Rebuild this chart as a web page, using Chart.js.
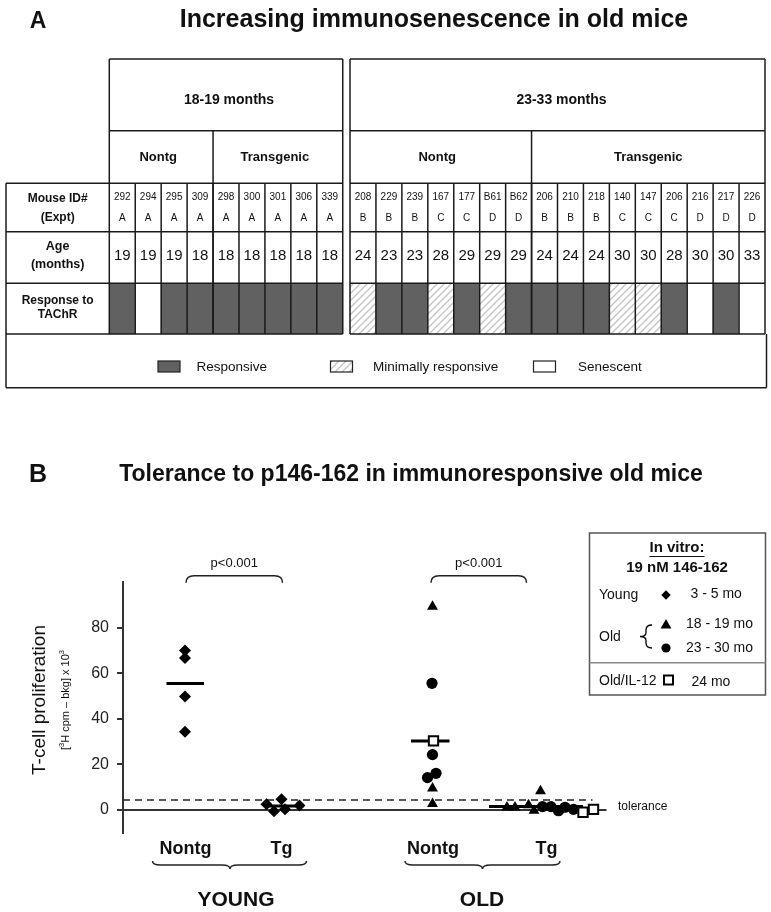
<!DOCTYPE html>
<html><head><meta charset="utf-8">
<script src="https://cdn.jsdelivr.net/npm/chart.js@4.4.1/dist/chart.umd.min.js"></script>
<style>
html,body{margin:0;padding:0;background:#fff;}
#wrap{position:relative;width:771px;height:912px;}
canvas{position:absolute;left:0;top:0;}
</style></head><body>
<div id="wrap"><canvas id="tableChart" width="771" height="912"></canvas><canvas id="prolifChart" width="771" height="912"></canvas></div>
<script>
// ---- panel A: mice table ----
const mouseIds = ['292','294','295','309','298','300','301','306','339','208','229','239','167','177','B61','B62','206','210','218','140','147','206','216','217','226'];
const expts = ['A','A','A','A','A','A','A','A','A','B','B','B','C','C','D','D','B','B','B','C','C','C','D','D','D'];
const ages = [19,19,19,18,18,18,18,18,18,24,23,23,28,29,29,29,24,24,24,30,30,28,30,30,33];
// R = responsive, M = minimally responsive, S = senescent
const responses = ['R','S','R','R','R','R','R','R','R','M','R','R','M','R','M','R','R','R','R','M','M','R','S','R','S'];
const ageGroups = ['18-19 months','23-33 months'];
const groupSizes = [9,16];
const strains = ['Nontg','Transgenic','Nontg','Transgenic'];
const strainSizes = [4,5,7,9];
const responseKeys = ['R','M','S'];
const responseNames = ['Responsive','Minimally responsive','Senescent'];

// ---- panel B: T-cell proliferation ----
const yTicks = [0,20,40,60,80];
const groupX = [12.5,31.7,62,84.7];
const groupLabels = ['Nontg','Tg','Nontg','Tg'];
const youngNontgX = [12.4,12.4,12.4,12.4];
const youngNontgY = [70,66.7,49.8,34.3];
const youngTgX = [28.7,31.7,30.2,32.4,35.3];
const youngTgY = [2.5,4.7,-0.5,0.3,2.0];
const oldNontgTriX = [61.9,61.9,61.9];
const oldNontgTriY = [89.3,9.5,2.7];
const oldNontgCircX = [61.8,61.9,60.9,62.6];
const oldNontgCircY = [55.6,24.3,14.2,16.1];
const oldNontgSqX = [62.1];
const oldNontgSqY = [30.3];
const oldTgTriX = [76.8,78.4,81.1,82.2,83.5];
const oldTgTriY = [1.2,1.2,2.2,-0.3,8.3];
const oldTgCircX = [83.9,85.6,87.1,88.4,90.1];
const oldTgCircY = [1.5,1.5,-0.3,1.2,0.3];
const oldTgSqX = [92,94.1];
const oldTgSqY = [-1,0.3];
const meanY = [55.5,1.8,30.3,1.5];
const meanFrom = [8.7,28.6,57.6,73.2];
const meanTo = [16.2,35.4,65.3,92];
const toleranceLevel = 4.4;
const baselineX = [0,96.7];
const toleranceX = [0,93.9];

const FONT = '"Liberation Sans", Arial, Helvetica, sans-serif';
const GAP = 0.28;
function cellX(i){ return i < groupSizes[0] ? i + 0.5 : i + 0.5 + GAP; }
function edgeX(i){ return i <= groupSizes[0] ? i : i + GAP; }

function hatchPattern(ctx){
  const c = document.createElement('canvas'); c.width = c.height = 7;
  const g = c.getContext('2d');
  g.fillStyle = '#fff'; g.fillRect(0,0,7,7);
  g.strokeStyle = '#c4c4c4'; g.lineWidth = 1.3;
  g.beginPath(); g.moveTo(0,7); g.lineTo(7,0); g.moveTo(-1,1); g.lineTo(1,-1); g.moveTo(6,8); g.lineTo(8,6); g.stroke();
  return ctx.createPattern(c,'repeat');
}
function txt(ctx, s, x, y, font, align, maxW){
  ctx.font = font; ctx.textAlign = align || 'center'; ctx.textBaseline = 'middle';
  if (maxW) ctx.fillText(s, x, y, maxW); else ctx.fillText(s, x, y);
}
function line(ctx, x1, y1, x2, y2){ ctx.beginPath(); ctx.moveTo(x1,y1); ctx.lineTo(x2,y2); ctx.stroke(); }

const ctxA = document.getElementById('tableChart').getContext('2d');
const HATCH = hatchPattern(ctxA);
const fills = { R:'#616161', M:HATCH, S:'#ffffff' };

const tablePlugin = {
  id:'tableDraw',
  afterDatasetsDraw(chart){
    const ctx = chart.ctx, ca = chart.chartArea, xs = chart.scales.x;
    const px = v => xs.getPixelForValue(v);
    const L0 = 6, Lc = ca.left, R = ca.right;
    const Yt = 59, Y1 = 130.7, Y2 = 183.3, Y3 = 231.7, Y4 = ca.top, Y5 = ca.bottom, Y6 = 387.7;
    const bL = px(groupSizes[0]), bR = px(groupSizes[0] + GAP);
    ctx.save();
    ctx.strokeStyle = '#1a1a1a'; ctx.lineWidth = 1.5;
    [Yt, Y1].forEach(y => { line(ctx,Lc,y,bL,y); line(ctx,bR,y,R,y); });
    [Y2, Y3, Y4, Y5].forEach(y => { line(ctx,L0,y,bL,y); line(ctx,bR,y,R,y); });
    line(ctx, L0, Y6, R + 1.5, Y6);
    line(ctx, L0, Y2, L0, Y6); line(ctx, Lc, Yt, Lc, Y5);
    line(ctx, R, Yt, R, Y5); line(ctx, R + 1.5, Y5, R + 1.5, Y6);
    line(ctx, bL, Yt, bL, Y5); line(ctx, bR, Yt, bR, Y5);
    // strain dividers and cell dividers
    let acc = 0;
    strainSizes.forEach((n, k) => {
      acc += n;
      if (k === 0 || k === 2) { const x = px(edgeX(acc)); line(ctx, x, Y1, x, Y5); }
    });
    for (let i = 1; i < mouseIds.length; i++) {
      if (i === groupSizes[0]) continue;
      const x = px(edgeX(i)); line(ctx, x, Y2, x, Y5);
    }
    ctx.fillStyle = '#111';
    // panel title
    txt(ctx, 'A', 38, 22, 'bold 23px ' + FONT);
    txt(ctx, 'Increasing immunosenescence in old mice', 434, 20, 'bold 25px ' + FONT, 'center', 517);
    // age group headers
    txt(ctx, ageGroups[0], (Lc + bL) / 2 + 3, 100, 'bold 14px ' + FONT);
    txt(ctx, ageGroups[1], (bR + R) / 2 + 4, 100, 'bold 14px ' + FONT);
    // strain headers
    acc = 0;
    strainSizes.forEach((n, k) => {
      const x1 = px(edgeX(acc)), x2 = px(edgeX(acc + n));
      acc += n;
      txt(ctx, strains[k], (x1 + x2) / 2 + (k < 2 ? -3 : 0), 157, 'bold 13px ' + FONT);
    });
    // row labels
    const lx = (L0 + Lc) / 2;
    txt(ctx, 'Mouse ID#', lx, 199, 'bold 12px ' + FONT);
    txt(ctx, '(Expt)', lx, 218, 'bold 12px ' + FONT);
    txt(ctx, 'Age', lx, 247, 'bold 12.5px ' + FONT);
    txt(ctx, '(months)', lx, 265, 'bold 12.5px ' + FONT);
    txt(ctx, 'Response to', lx, 301, 'bold 12px ' + FONT);
    txt(ctx, 'TAChR', lx, 315, 'bold 12px ' + FONT);
    mouseIds.forEach((id, i) => {
      const x = px(cellX(i));
      txt(ctx, id, x, 197.5, '10px ' + FONT);
      txt(ctx, expts[i], x, 218.5, '10px ' + FONT);
      txt(ctx, String(ages[i]), x, 256, '15px ' + FONT);
    });
    // legend row
    const sw = [158, 330.5, 533.5], tx = [196.5, 373, 578];
    responseKeys.forEach((k, j) => {
      ctx.fillStyle = fills[k]; ctx.fillRect(sw[j], 361, 22, 11);
      ctx.strokeStyle = '#222'; ctx.lineWidth = 1.2; ctx.strokeRect(sw[j], 361, 22, 11);
      ctx.fillStyle = '#111';
      txt(ctx, responseNames[j], tx[j], 367.5, '13.5px ' + FONT, 'left');
    });
    ctx.restore();
  }
};

new Chart(ctxA, {
  type:'bar',
  data:{ datasets:[{
    data: mouseIds.map((id, i) => ({ x: cellX(i), y: [0, 1] })),
    backgroundColor: responses.map(r => fills[r]),
    borderWidth: 0, barPercentage: 1, categoryPercentage: 1
  }]},
  options:{
    responsive:false, animation:false,
    layout:{ padding:{ left:109.3, right:6, top:283.3, bottom:912 - 334 } },
    plugins:{ legend:{display:false}, tooltip:{enabled:false} },
    scales:{
      x:{ type:'linear', min:0, max:mouseIds.length + GAP, offset:false, display:false },
      y:{ min:0, max:1, display:false }
    }
  },
  plugins:[tablePlugin]
});

// ---- panel B drawing helpers ----
function drawMarker(ctx, kind, x, y, r){
  ctx.beginPath();
  if (kind === 'diamond') { ctx.moveTo(x, y - r); ctx.lineTo(x + r, y); ctx.lineTo(x, y + r); ctx.lineTo(x - r, y); ctx.closePath(); ctx.fill(); }
  else if (kind === 'tri') { ctx.moveTo(x, y - r); ctx.lineTo(x + r * 0.9, y + r * 0.6); ctx.lineTo(x - r * 0.9, y + r * 0.6); ctx.closePath(); ctx.fill(); }
  else if (kind === 'circ') { ctx.arc(x, y, r, 0, Math.PI * 2); ctx.fill(); }
  else { ctx.fillStyle = '#fff'; ctx.fillRect(x - r, y - r, 2 * r, 2 * r); ctx.lineWidth = 2; ctx.strokeRect(x - r, y - r, 2 * r, 2 * r); ctx.fillStyle = '#000'; }
}
function braceDown(ctx, x1, x2, xm, y, h){
  const r = h * 0.5;
  ctx.beginPath();
  ctx.moveTo(x1, y);
  ctx.quadraticCurveTo(x1, y + r, x1 + 8, y + r);
  ctx.lineTo(xm - 8, y + r);
  ctx.quadraticCurveTo(xm, y + r, xm, y + h);
  ctx.quadraticCurveTo(xm, y + r, xm + 8, y + r);
  ctx.lineTo(x2 - 8, y + r);
  ctx.quadraticCurveTo(x2, y + r, x2, y);
  ctx.stroke();
}
function bracketUp(ctx, x1, x2, y, h){
  ctx.beginPath();
  ctx.moveTo(x1, y + h);
  ctx.quadraticCurveTo(x1, y, x1 + 8, y);
  ctx.lineTo(x2 - 8, y);
  ctx.quadraticCurveTo(x2, y, x2, y + h);
  ctx.stroke();
}
function runs(ctx, parts){
  let w = 0;
  parts.forEach(p => { ctx.font = p.size + 'px ' + FONT; w += ctx.measureText(p.t).width; });
  let x = -w / 2;
  ctx.textAlign = 'left'; ctx.textBaseline = 'middle';
  parts.forEach(p => { ctx.font = p.size + 'px ' + FONT; ctx.fillText(p.t, x, p.dy || 0); x += ctx.measureText(p.t).width; });
}

const annotPlugin = {
  id:'annot',
  afterDraw(chart){
    const ctx = chart.ctx, xs = chart.scales.x, ys = chart.scales.y;
    const X = v => xs.getPixelForValue(v), Yv = v => ys.getPixelForValue(v);
    ctx.save();
    ctx.fillStyle = '#111'; ctx.strokeStyle = '#222';
    txt(ctx, 'B', 38, 475, 'bold 25px ' + FONT);
    txt(ctx, 'Tolerance to p146-162 in immunoresponsive old mice', 411, 475, 'bold 23px ' + FONT, 'center', 645);
    // y axis title
    ctx.save(); ctx.translate(40, 700); ctx.rotate(-Math.PI / 2);
    txt(ctx, 'T-cell proliferation', 0, 0, '19px ' + FONT);
    ctx.restore();
    ctx.save(); ctx.translate(66, 700); ctx.rotate(-Math.PI / 2);
    runs(ctx, [{t:'[', size:11}, {t:'3', size:7.5, dy:-4}, {t:'H cpm \u2013 bkg] x 10', size:11}, {t:'3', size:7.5, dy:-4}]);
    ctx.restore();
    // significance brackets
    ctx.lineWidth = 1.5;
    [[12.6, 31.9], [61.6, 80.7]].forEach(b => {
      bracketUp(ctx, X(b[0]), X(b[1]), Yv(102.8), 7);
      txt(ctx, 'p<0.001', (X(b[0]) + X(b[1])) / 2, Yv(108.2), '13px ' + FONT);
    });
    // group braces
    braceDown(ctx, X(5.9), X(36.7), X(21.4), 861, 8);
    braceDown(ctx, X(56.4), X(87.4), X(71.9), 861, 8);
    txt(ctx, 'YOUNG', X(22.6), 900, 'bold 21px ' + FONT);
    txt(ctx, 'OLD', X(71.8), 900, 'bold 21px ' + FONT);
    txt(ctx, 'tolerance', X(99), Yv(1.5), '12px ' + FONT, 'left');
    // in vitro legend box
    ctx.strokeStyle = '#555'; ctx.lineWidth = 1.5;
    ctx.strokeRect(589.5, 533, 176, 162);
    ctx.strokeStyle = '#888'; line(ctx, 589.5, 662.7, 765.5, 662.7);
    ctx.fillStyle = '#111';
    txt(ctx, 'In vitro:', 677, 548, 'bold 15px ' + FONT);
    ctx.font = 'bold 15px ' + FONT;
    const uw = ctx.measureText('In vitro:').width;
    ctx.strokeStyle = '#111'; ctx.lineWidth = 1.2; line(ctx, 677 - uw / 2, 556.5, 677 + uw / 2, 556.5);
    txt(ctx, '19 nM 146-162', 677, 567.5, 'bold 15px ' + FONT);
    txt(ctx, 'Young', 599, 595, '14px ' + FONT, 'left');
    txt(ctx, '3 - 5 mo', 690.5, 594, '14px ' + FONT, 'left');
    txt(ctx, 'Old', 599, 637, '14px ' + FONT, 'left');
    txt(ctx, '18 - 19 mo', 686, 624, '14px ' + FONT, 'left');
    txt(ctx, '23 - 30 mo', 686, 648, '14px ' + FONT, 'left');
    txt(ctx, 'Old/IL-12', 599, 681.5, '14px ' + FONT, 'left');
    txt(ctx, '24 mo', 691.5, 682.5, '14px ' + FONT, 'left');
    ctx.fillStyle = '#000'; ctx.strokeStyle = '#000';
    drawMarker(ctx, 'diamond', 666, 595, 4.7);
    drawMarker(ctx, 'tri', 666, 625, 6);
    drawMarker(ctx, 'circ', 666, 648, 4.6);
    drawMarker(ctx, 'sq', 668.5, 680, 4.5);
    // old brace in legend
    ctx.lineWidth = 1.3; ctx.beginPath();
    ctx.moveTo(652, 625); ctx.quadraticCurveTo(646, 625, 646, 630); ctx.lineTo(646, 632.5);
    ctx.quadraticCurveTo(646, 636.5, 640, 636.5); ctx.quadraticCurveTo(646, 636.5, 646, 640.5);
    ctx.lineTo(646, 643); ctx.quadraticCurveTo(646, 648, 652, 648); ctx.stroke();
    ctx.restore();
  }
};

const pts = (xs, ys) => xs.map((x, i) => ({ x, y: ys[i] }));
const black = '#000';
const diamond = { pointStyle:'rectRot', pointRadius:6, backgroundColor:black, borderColor:black, borderWidth:0, order:0 };
const tri = { pointStyle:'triangle', pointRadius:6.3, backgroundColor:black, borderColor:black, borderWidth:0, order:0 };
const circ = { pointStyle:'circle', pointRadius:5.6, backgroundColor:black, borderColor:black, borderWidth:0, order:0 };
const sq = { pointStyle:'rect', pointRadius:6.6, backgroundColor:'#fff', borderColor:black, borderWidth:2, order:0 };

const meanSets = meanY.map((m, i) => ({
  type:'line', data:[{x:meanFrom[i], y:m}, {x:meanTo[i], y:m}],
  borderColor:'#000', borderWidth:3, pointRadius:0, order:5
}));

new Chart(document.getElementById('prolifChart'), {
  type:'scatter',
  data:{ datasets:[
    { type:'line', data:[{x:baselineX[0], y:0}, {x:baselineX[1], y:0}], borderColor:'#333', borderWidth:1.8, pointRadius:0, order:9 },
    { type:'line', data:[{x:toleranceX[0], y:toleranceLevel}, {x:toleranceX[1], y:toleranceLevel}], borderColor:'#222', borderWidth:1.5, borderDash:[7,5], pointRadius:0, order:9 },
    ...meanSets,
    Object.assign({ data: pts(youngNontgX, youngNontgY) }, diamond),
    Object.assign({ data: pts(youngTgX, youngTgY) }, diamond),
    Object.assign({ data: pts(oldNontgTriX, oldNontgTriY) }, tri),
    Object.assign({ data: pts(oldNontgCircX, oldNontgCircY) }, circ),
    Object.assign({ data: pts(oldNontgSqX, oldNontgSqY) }, sq),
    Object.assign({ data: pts(oldTgTriX, oldTgTriY) }, tri),
    Object.assign({ data: pts(oldTgCircX, oldTgCircY) }, circ),
    Object.assign({ data: pts(oldTgSqX, oldTgSqY) }, sq)
  ]},
  options:{
    responsive:false, animation:false,
    layout:{ padding:{ left:0, right:148, top:582.1, bottom:0 } },
    plugins:{ legend:{display:false}, tooltip:{enabled:false} },
    scales:{
      x:{
        type:'linear', min:0, max:100, offset:false,
        afterBuildTicks: s => { s.ticks = groupX.map(v => ({ value:v })); },
        afterFit: s => { s.height = 79.2; },
        border:{ display:false }, grid:{ display:false, drawTicks:false },
        ticks:{ autoSkip:false, maxRotation:0, minRotation:0, padding:5, color:'#111',
          font:{ family:FONT, size:18, weight:'bold' },
          callback: (v, i) => groupLabels[i] }
      },
      y:{
        type:'linear', min:-10, max:100,
        afterBuildTicks: s => { s.ticks = yTicks.map(v => ({ value:v })); },
        afterFit: s => { s.width = 123; },
        border:{ display:true, color:'#333', width:2 },
        grid:{ display:true, drawOnChartArea:false, drawTicks:true, tickLength:6, color:'#333', lineWidth:2 },
        ticks:{ padding:8, color:'#222', font:{ family:FONT, size:16 } }
      }
    }
  },
  plugins:[annotPlugin]
});
</script>
</body></html>
